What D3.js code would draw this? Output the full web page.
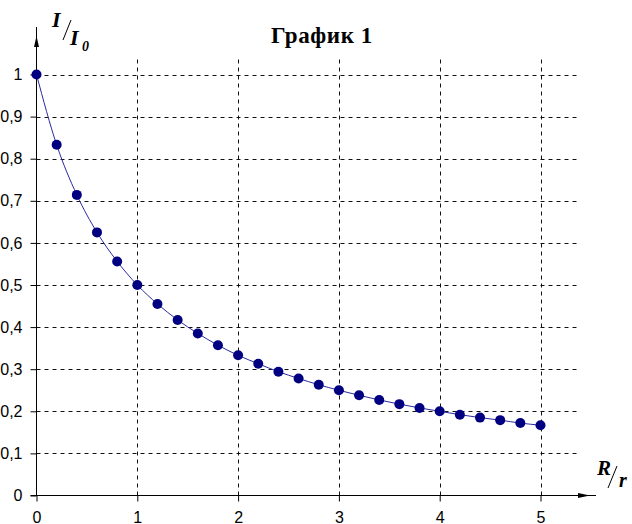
<!DOCTYPE html>
<html>
<head>
<meta charset="utf-8">
<script src="https://cdn.jsdelivr.net/npm/d3@7"></script>
<style>
	body { margin: 0; background: #fff; }
	svg { display: block; }
	.sym { font-family: "Liberation Serif", "Times New Roman", serif; font-weight: bold; font-style: italic; fill: #000; }
</style>
</head>
<body>
<div id="chart-area"></div>
<script>

// data - values
let ratioR = [0, 0.2, 0.4, 0.6, 0.8, 1, 1.2, 1.4, 1.6, 1.8, 2, 2.2, 2.4, 2.6, 2.8, 3, 3.2, 3.4, 3.6, 3.8, 4, 4.2, 4.4, 4.6, 4.8, 5];
let ratioI = [1, 0.833, 0.714, 0.625, 0.556, 0.5, 0.455, 0.417, 0.385, 0.357, 0.333, 0.313, 0.294, 0.278, 0.263, 0.25, 0.238, 0.227, 0.217, 0.208, 0.2, 0.192, 0.185, 0.179, 0.172, 0.167];

let xTicks = [0, 1, 2, 3, 4, 5];
let yTicks = [0, 0.1, 0.2, 0.3, 0.4, 0.5, 0.6, 0.7, 0.8, 0.9, 1];
let yTickLabels = ["0", "0,1", "0,2", "0,3", "0,4", "0,5", "0,6", "0,7", "0,8", "0,9", "1"];

let title = "График 1";

let data = ratioR.map((r, i) => ({x: r, y: ratioI[i]}));

let width = 632, height = 524;

let svg = d3.select("#chart-area").append("svg")
	.attr("width", width)
	.attr("height", height);

// scales
let x = d3.scaleLinear().domain([0, 5]).range([36.5, 540.5]);
let y = d3.scaleLinear().domain([0, 1]).range([495.5, 74.5]);

let gridRight = 577, gridTop = 57;

// horizontal grid
svg.append("g")
	.selectAll("line")
	.data(yTicks.filter(d => d > 0))
	.enter()
	.append("line")
	.attr("x1", x(0))
	.attr("x2", gridRight)
	.attr("y1", d => Math.round(y(d)) + 0.5)
	.attr("y2", d => Math.round(y(d)) + 0.5)
	.attr("stroke", "#111")
	.attr("stroke-dasharray", "4,4");

// vertical grid
svg.append("g")
	.selectAll("line")
	.data(xTicks.filter(d => d > 0))
	.enter()
	.append("line")
	.attr("x1", d => Math.round(x(d)) + 0.5)
	.attr("x2", d => Math.round(x(d)) + 0.5)
	.attr("y1", y(0))
	.attr("y2", gridTop)
	.attr("stroke", "#111")
	.attr("stroke-dasharray", "4,4");

// axes
let xAxis = d3.axisBottom(x)
	.tickValues(xTicks)
	.tickSize(6)
	.tickFormat(d3.format("d"));

let yAxis = d3.axisLeft(y)
	.tickValues(yTicks)
	.tickSize(6)
	.tickFormat((d, i) => yTickLabels[i]);

let gx = svg.append("g")
	.attr("transform", "translate(0," + y(0) + ")")
	.call(xAxis)
	.attr("font-size", 16)
	.attr("font-family", "'Liberation Sans', Arial, sans-serif");
gx.select(".domain").remove();
gx.selectAll(".tick text")
	.attr("y", 27)
	.attr("dy", null);

let gy = svg.append("g")
	.attr("transform", "translate(" + x(0) + ",0)")
	.call(yAxis)
	.attr("font-size", 16)
	.attr("font-family", "'Liberation Sans', Arial, sans-serif");
gy.select(".domain").remove();
gy.selectAll(".tick text")
	.attr("x", -14);

// axis lines with arrows
svg.append("line")
	.attr("x1", x(0)).attr("x2", x(0))
	.attr("y1", y(0)).attr("y2", 27)
	.attr("stroke", "#000");
svg.append("path")
	.attr("d", "M" + x(0) + ",36 L" + (x(0) - 2.5) + ",47 L" + (x(0) + 2.5) + ",47 Z")
	.attr("fill", "#000");

svg.append("line")
	.attr("x1", x(0) - 6).attr("x2", 596)
	.attr("y1", y(0)).attr("y2", y(0))
	.attr("stroke", "#000");
svg.append("path")
	.attr("d", "M590," + y(0) + " L578," + (y(0) - 2.5) + " L578," + (y(0) + 2.5) + " Z")
	.attr("fill", "#000");

// curve
let line = d3.line()
	.x(d => x(d.x))
	.y(d => y(d.y))
	.curve(d3.curveMonotoneX);

svg.append("path")
	.datum(data)
	.attr("d", line)
	.attr("fill", "none")
	.attr("stroke", "#2a2aa0")
	.attr("stroke-width", 1);

svg.selectAll("circle.pt")
	.data(data)
	.enter()
	.append("circle")
	.attr("class", "pt")
	.attr("cx", d => x(d.x))
	.attr("cy", d => y(d.y))
	.attr("r", 5)
	.attr("fill", "#000080");

// title
svg.append("text")
	.attr("x", 322)
	.attr("y", 43)
	.attr("text-anchor", "middle")
	.style("font-family", "'Liberation Serif', 'Times New Roman', serif")
	.style("font-weight", "bold")
	.style("font-size", "23px")
	.style("letter-spacing", "0.6px")
	.text(title);

// axis symbols I/I0 and R/r
let yl = svg.append("g");
yl.append("text").attr("class", "sym").attr("x", 52).attr("y", 27).style("font-size", "22px").text("I");
yl.append("line").attr("x1", 63).attr("y1", 40).attr("x2", 71).attr("y2", 20).attr("stroke", "#000");
yl.append("text").attr("class", "sym").attr("x", 70).attr("y", 45).style("font-size", "22px").text("I");
yl.append("text").attr("class", "sym").attr("x", 82).attr("y", 51).style("font-size", "14px").text("0");

let xl = svg.append("g");
xl.append("text").attr("class", "sym").attr("x", 597).attr("y", 475).style("font-size", "21px").text("R");
xl.append("line").attr("x1", 608).attr("y1", 488).attr("x2", 617).attr("y2", 466).attr("stroke", "#000");
xl.append("text").attr("class", "sym").attr("x", 619).attr("y", 487).style("font-size", "20px").text("r");

</script>
</body>
</html>
